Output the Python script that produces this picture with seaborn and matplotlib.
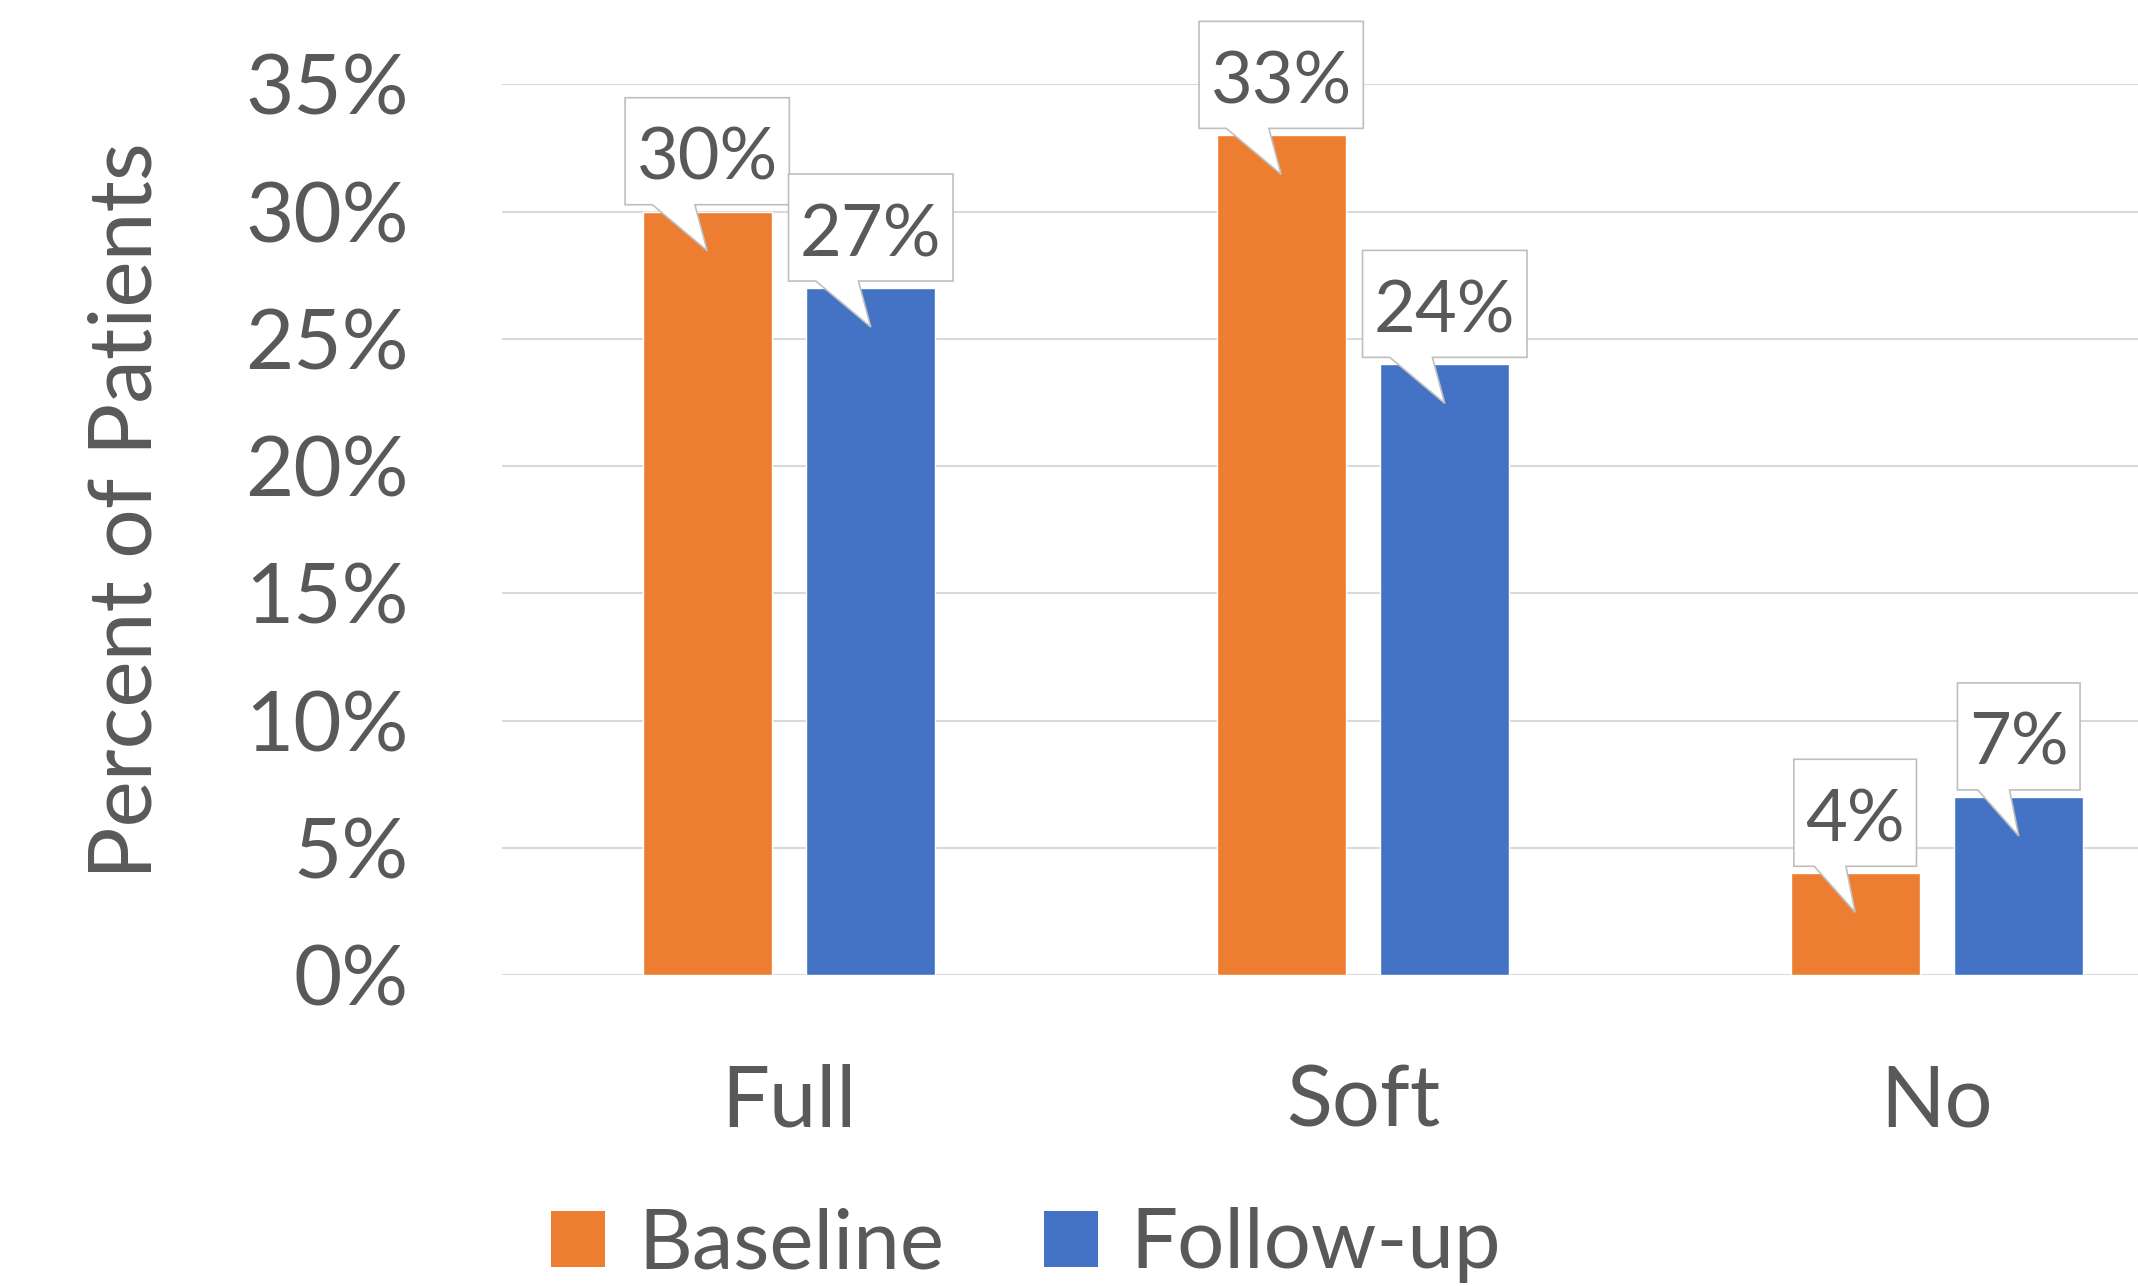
import matplotlib
matplotlib.use("Agg")
import matplotlib.pyplot as plt
import matplotlib.ticker as mtick
from matplotlib.patches import Polygon, Patch
from matplotlib.transforms import IdentityTransform
import pandas as pd
import seaborn as sns

categories = ["Full", "Soft", "No"]
series = ["Baseline", "Follow-up"]
baseline = [0.30, 0.33, 0.04]
follow_up = [0.27, 0.24, 0.07]
y_ticks = [0, 0.05, 0.10, 0.15, 0.20, 0.25, 0.30, 0.35]
colors = ["#ED7D31", "#4472C4"]

df = pd.DataFrame({
    "category": categories * 2,
    "series": [series[0]] * len(categories) + [series[1]] * len(categories),
    "value": baseline + follow_up,
})

sns.set_style("white")
plt.rcParams["font.family"] = ["Lato", "DejaVu Sans"]
grey = "#595959"

fig = plt.figure(figsize=(21.38, 12.86), dpi=100)
# axes runs past the right edge, like the cropped original
ax = fig.add_axes([0.2348, 0.2418, 0.8054, 0.6925])
sns.barplot(data=df, x="category", y="value", hue="series", palette=colors,
            width=0.57, gap=0.21, saturation=1, errorbar=None, legend=False, ax=ax)

ax.set_ylim(0, 0.35)
ax.set_yticks(y_ticks)
ax.yaxis.set_major_formatter(mtick.PercentFormatter(1.0, decimals=0))
ax.tick_params(axis="y", length=0, pad=67, labelsize=60, labelcolor=grey)
ax.tick_params(axis="x", length=0, pad=64, labelsize=61, labelcolor=grey)
ax.set_xlabel("")
ax.set_ylabel("")
ax.grid(axis="y", color="#D9D9D9", lw=1.5)
ax.set_axisbelow(True)
sns.despine(ax=ax, left=True, bottom=True)

fig.text(152 / 2138, 1 - 511 / 1286, "Percent of Patients", rotation=90,
         rotation_mode="anchor", ha="center", va="baseline", fontsize=63, color=grey)

# callout labels
fig.canvas.draw()
renderer = fig.canvas.get_renderer()
label_size = 52
cap = 0.72 * label_size * 100 / 72
for container in ax.containers:
    for bar in container:
        cx, ty = ax.transData.transform((bar.get_x() + bar.get_width() / 2, bar.get_height()))
        label = fig.text(cx, 0, f"{bar.get_height():.0%}", transform=IdentityTransform(),
                         ha="center", va="baseline", fontsize=label_size, color=grey, zorder=5)
        tw = label.get_window_extent(renderer).width
        bw = tw + 23
        bh = 107
        bb = ty + 7
        bt = bb + bh
        bl = cx - bw / 2
        br = cx + bw / 2
        label.set_y((bb + bt) / 2 - cap / 2 - 2.5)
        shape = Polygon([(bl, bb), (bl + 0.166 * bw, bb), (cx, ty - 39), (bl + 0.425 * bw, bb),
                         (br, bb), (br, bt), (bl, bt)], closed=True,
                        transform=IdentityTransform(), facecolor="white",
                        edgecolor="#BFBFBF", lw=1.2, zorder=4)
        fig.add_artist(shape)

handles = [Patch(facecolor=c, edgecolor="none") for c in colors]
fig.legend(handles, series, loc="lower center", bbox_to_anchor=(0.48, 0.002), ncol=2,
           frameon=False, fontsize=60, labelcolor=grey, handlelength=0.65, handleheight=0.65,
           handletextpad=0.39, columnspacing=1.2, borderpad=0, borderaxespad=0)

fig.savefig("out.png", dpi=100)
